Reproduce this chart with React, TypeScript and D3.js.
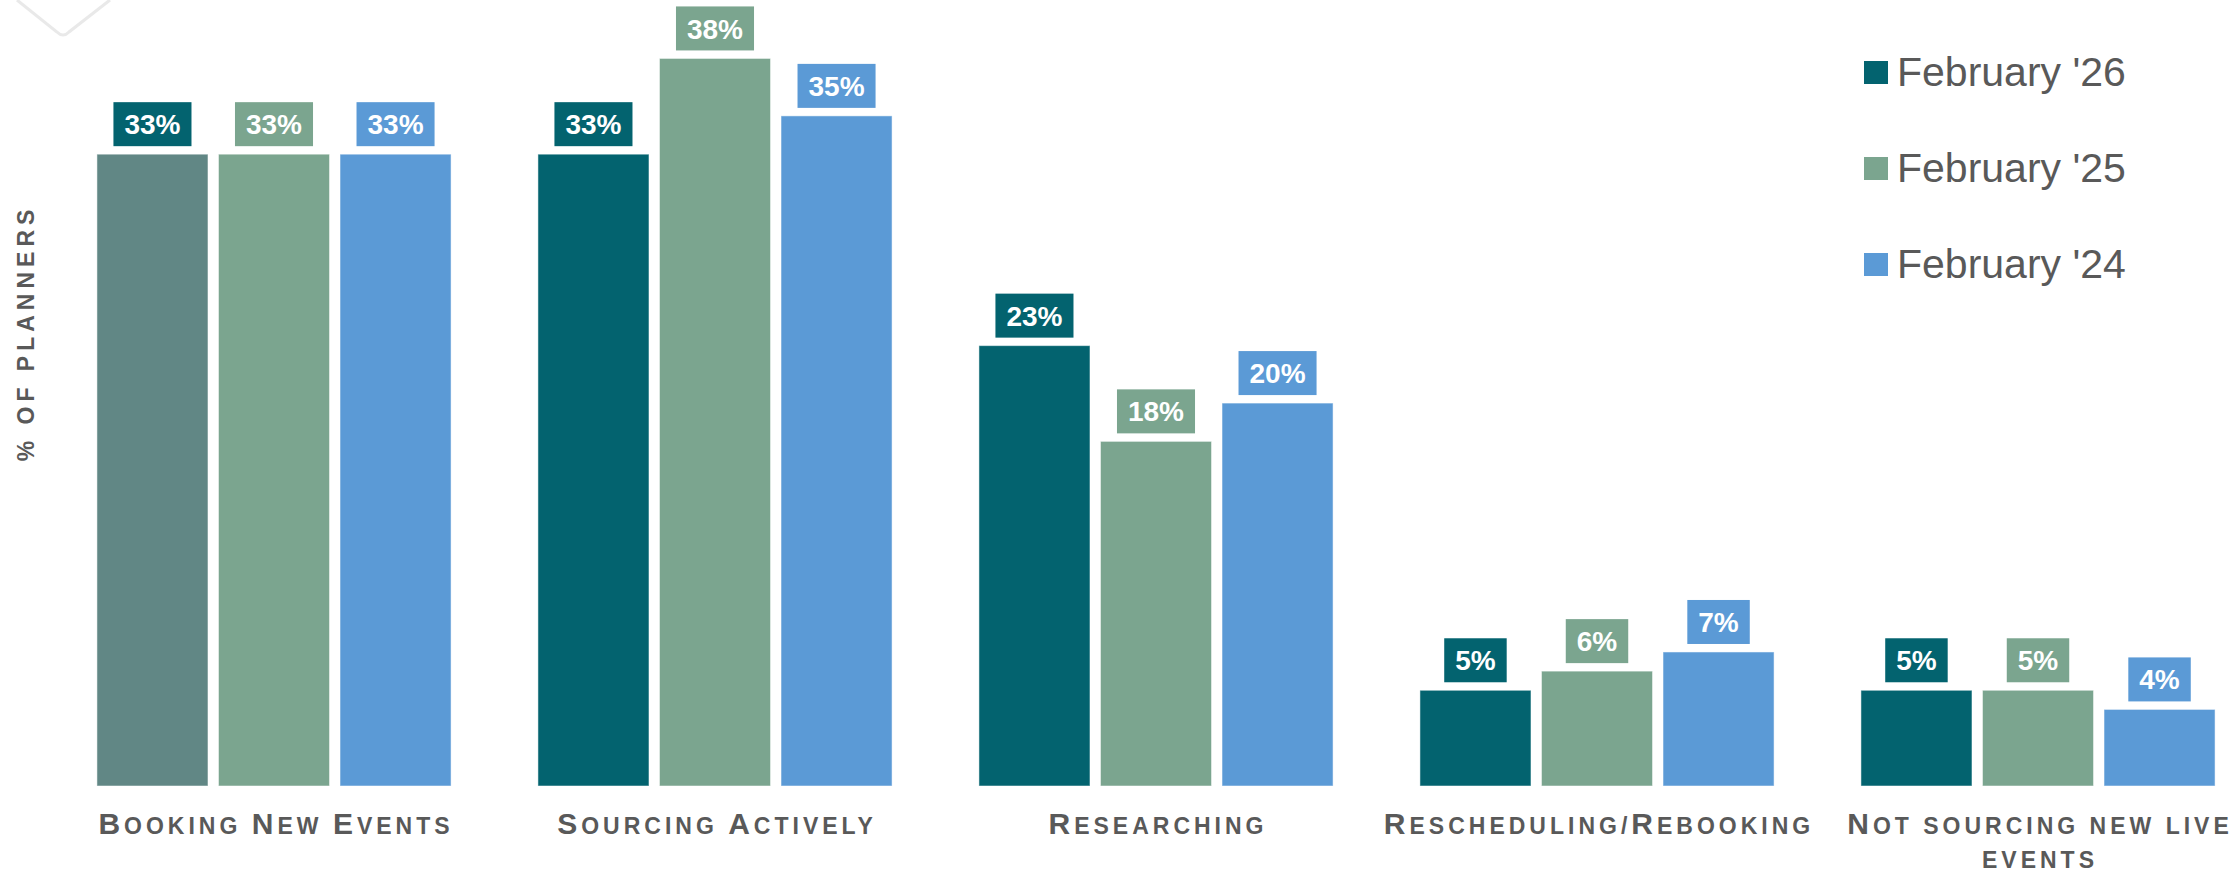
import React from "react";
import * as d3 from "d3";

const categories = [
  "Booking New Events",
  "Sourcing Actively",
  "Researching",
  "Rescheduling/Rebooking",
  "Not sourcing new live events",
];
const seriesNames = ["February '26", "February '25", "February '24"];
const feb26 = [33, 33, 23, 5, 5];
const feb25 = [33, 38, 18, 6, 5];
const feb24 = [33, 35, 20, 7, 4];
const seriesValues = [feb26, feb25, feb24];
const yAxisTitle = "% OF PLANNERS";

const W = 2240;
const H = 879;
const COLORS = ["#03636f", "#7ba58f", "#5b9ad6"];
const FIRST_BAR_COLOR = "#618785";
const TEXT_GRAY = "#595959";
const FONT = "'Liberation Sans', Arial, sans-serif";

let _ctx: CanvasRenderingContext2D | null = null;
function measure(text: string, size: number, ls = 0): number {
  if (!_ctx) {
    const c = document.createElement("canvas");
    _ctx = c.getContext("2d");
  }
  if (!_ctx) return text.length * size * 0.6;
  _ctx.font = `bold ${size}px ${FONT}`;
  return _ctx.measureText(text).width + ls * text.length;
}

const BIG = 30;
const SMALL = 23;
const LS = 4.0;

type Run = { text: string; size: number };
function toRuns(s: string): Run[] {
  const runs: Run[] = [];
  for (const ch of s) {
    const isBig = ch !== ch.toLowerCase();
    const size = isBig ? BIG : SMALL;
    const t = ch.toUpperCase();
    const last = runs[runs.length - 1];
    if (last && last.size === size) last.text += t;
    else runs.push({ text: t, size });
  }
  return runs;
}
function runsWidth(s: string): number {
  return toRuns(s).reduce((a, r) => a + measure(r.text, r.size, LS), 0);
}
function wrap(label: string, maxW: number): string[] {
  const words = label.split(" ");
  const lines: string[] = [];
  let cur = "";
  for (const w of words) {
    const trial = cur ? cur + " " + w : w;
    if (cur && runsWidth(trial) > maxW) {
      lines.push(cur);
      cur = w;
    } else cur = trial;
  }
  if (cur) lines.push(cur);
  return lines;
}

export default function App() {
  const x0 = d3
    .scaleBand<string>()
    .domain(categories)
    .range([53.5, 2258.5])
    .paddingInner(0.197)
    .paddingOuter(0.0985);
  const x1 = d3
    .scaleBand<number>()
    .domain(d3.range(seriesNames.length))
    .range([0, x0.bandwidth()])
    .paddingInner(0.0864)
    .paddingOuter(0);
  const y = d3.scaleLinear().domain([0, 41]).range([786, 1]);

  return (
    <svg
      width={W}
      height={H}
      style={{ position: "absolute", left: 0, top: 0, display: "block", background: "#fff" }}
      fontFamily={FONT}
    >
      <rect x={0} y={0} width={W} height={H} fill="#fff" />
      <path
        d="M17,0 L57,32 Q63,38 69,32 L110,0"
        fill="none"
        stroke="#e9e9e9"
        strokeWidth={3}
      />
      {/* Y axis title */}
      <text
        transform={`translate(34,333) rotate(-90)`}
        textAnchor="middle"
        fontSize={23}
        fontWeight="bold"
        letterSpacing={5}
        fill={TEXT_GRAY}
      >
        {yAxisTitle}
      </text>

      {categories.map((cat, ci) => (
        <g key={cat} transform={`translate(${x0(cat)},0)`}>
          {seriesValues.map((vals, si) => {
            const v = vals[ci];
            const bx = x1(si)!;
            const bw = x1.bandwidth();
            const top = y(v);
            const label = `${v}%`;
            const boxW = measure(label, 28) + 22;
            const boxH = 44;
            const cx = bx + bw / 2;
            const boxY = top - 8 - boxH;
            return (
              <g key={si}>
                <rect
                  x={bx}
                  y={top}
                  width={bw}
                  height={y(0) - top}
                  fill={ci === 0 && si === 0 ? FIRST_BAR_COLOR : COLORS[si]}
                  stroke="rgba(255,255,255,0.5)"
                  strokeWidth={1}
                />
                <rect x={cx - boxW / 2} y={boxY} width={boxW} height={boxH} fill={COLORS[si]} />
                <text
                  x={cx}
                  y={boxY + boxH / 2}
                  dy="0.36em"
                  textAnchor="middle"
                  fontSize={28}
                  fontWeight="bold"
                  fill="#fff"
                >
                  {label}
                </text>
              </g>
            );
          })}
          {wrap(cat, 430).map((line, li) => (
            <text
              key={li}
              x={x0.bandwidth() / 2 + LS / 2}
              y={834 + li * 34}
              textAnchor="middle"
              fontWeight="bold"
              letterSpacing={LS}
              fill={TEXT_GRAY}
            >
              {toRuns(line).map((r, ri) => (
                <tspan key={ri} fontSize={r.size}>
                  {r.text}
                </tspan>
              ))}
            </text>
          ))}
        </g>
      ))}

      {/* Legend */}
      {seriesNames.map((name, si) => (
        <g key={name} transform={`translate(1864,${61 + si * 96})`}>
          <rect x={0} y={0} width={24} height={23} fill={COLORS[si]} />
          <text x={33} y={25} fontSize={41} fill={TEXT_GRAY}>
            {name}
          </text>
        </g>
      ))}
    </svg>
  );
}
